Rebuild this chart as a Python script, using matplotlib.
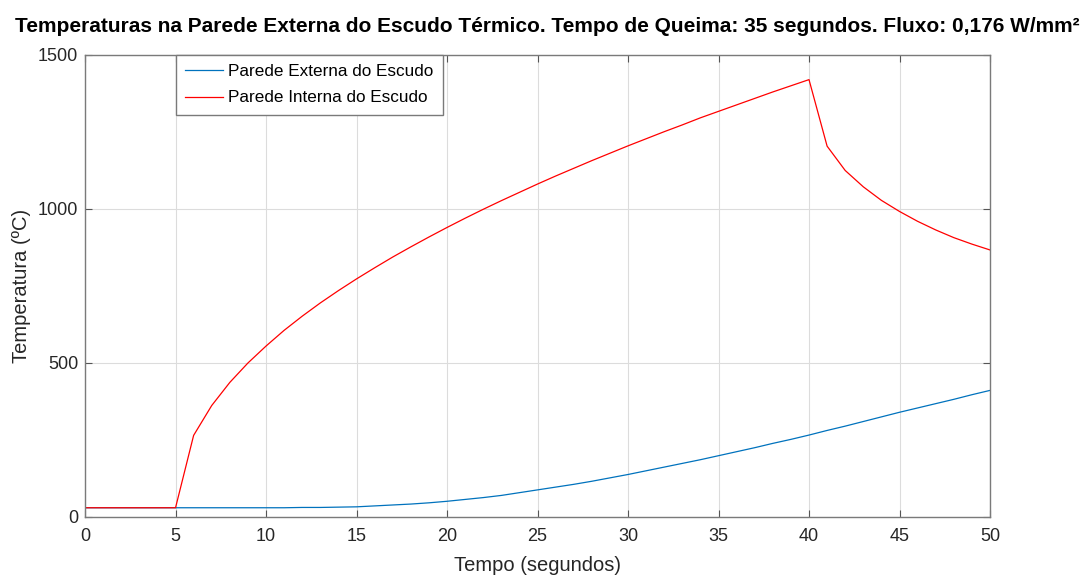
import numpy as np
import matplotlib.pyplot as plt

plt.rcParams['font.family'] = ['Liberation Sans', 'DejaVu Sans']

# tempo em segundos, uma amostra por segundo
tempo = list(range(0, 51))

# parede externa do escudo (ºC)
t_externa = [30, 30, 30, 30, 30, 30, 30, 30, 30, 30,
             30, 30, 31, 31, 32, 33, 36, 39, 42, 46,
             51, 57, 63, 70, 79, 88, 97, 106, 116, 127,
             138, 150, 162, 174, 186, 199, 212, 225, 239, 252,
             266, 281, 295, 310, 325, 340, 354, 368, 382, 397,
             411]

# parede interna do escudo (ºC)
t_interna = [30, 30, 30, 30, 30, 30, 265, 362, 437, 500,
             555, 606, 652, 695, 735, 773, 809, 844, 877, 909,
             940, 970, 999, 1027, 1054, 1081, 1107, 1132, 1157, 1181,
             1205, 1228, 1251, 1273, 1296, 1317, 1338, 1359, 1380, 1400,
             1420, 1204, 1125, 1072, 1028, 992, 960, 932, 907, 886,
             867]

fig = plt.figure(figsize=(10.86, 5.77), dpi=100)
ax = fig.add_axes([0.0783, 0.104, 0.8333, 0.8007])

ax.plot(tempo, t_externa, color='#0072BD', lw=0.9, label='Parede Externa do Escudo')
ax.plot(tempo, t_interna, color='#FF0000', lw=0.9, label='Parede Interna do Escudo')

ax.set_xlim(0, 50)
ax.set_ylim(0, 1500)
ax.set_xticks(np.arange(0, 51, 5))
ax.set_yticks([0, 500, 1000, 1500])
ax.grid(True, color='#DCDCDC', lw=0.8)
ax.set_axisbelow(True)

for s in ax.spines.values():
    s.set_color('#7A7A7A')
    s.set_linewidth(1.0)
ax.tick_params(direction='in', top=True, right=True, length=5,
               color='#555555', labelsize=13, labelcolor='#262626')
ax.tick_params(axis='x', pad=8)
ax.tick_params(axis='y', pad=5)

ax.set_xlabel('Tempo (segundos)', fontsize=14.5, color='#262626', labelpad=8)
ax.set_ylabel('Temperatura (ºC)', fontsize=14.5, color='#262626', labelpad=5)
fig.text(0.504, 1 - 32 / 577,
         'Temperaturas na Parede Externa do Escudo Térmico. Tempo de Queima: 35 segundos. Fluxo: 0,176 W/mm²',
         fontsize=15, fontweight='bold', ha='center', va='baseline')

leg = ax.legend(loc='upper left', bbox_to_anchor=(0.1, 1.0), borderaxespad=0,
                fontsize=12.3, fancybox=False, framealpha=1, handlelength=2.2,
                handletextpad=0.35, edgecolor='#7A7A7A', borderpad=0.55,
                labelspacing=0.65)
leg.get_frame().set_linewidth(1.0)

fig.savefig('out.png', dpi=100)
